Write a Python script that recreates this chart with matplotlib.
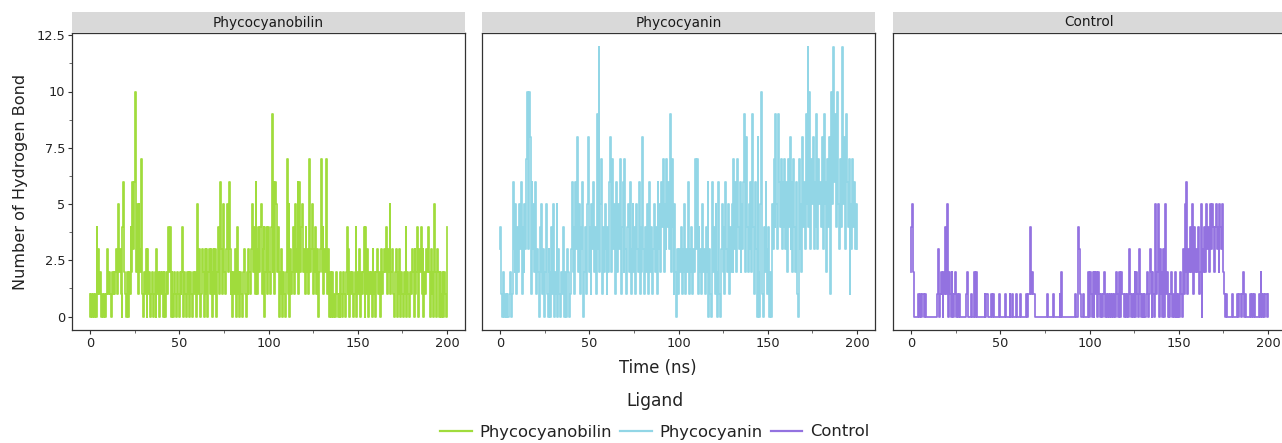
import numpy as np
import matplotlib
matplotlib.use("Agg")
import matplotlib.pyplot as plt
from matplotlib.ticker import MultipleLocator

# ---------------- data (hydrogen bond counts, one value per 0.5 ns) ----------------
ligands = ["Phycocyanobilin", "Phycocyanin", "Control"]
colors = ["#a0dc3c", "#92d6e6", "#9372e0"]

pcb_hbonds = [
    1,0,1,0,1,0,1,0,4,1,  3,1,2,0,1,0,1,1,0,1,  3,1,2,1,0,2,1,2,1,2,  3,1,5,2,3,1,0,4,6,2,
    1,0,2,0,2,1,4,2,6,3,  6,10,2,5,1,5,3,2,7,1, 0,2,1,3,0,3,1,2,0,1,  2,0,1,2,0,3,1,2,0,2,
    1,2,0,2,1,0,2,1,4,2,  4,0,2,1,0,2,1,0,2,1,  0,2,1,2,4,0,2,1,0,2,  1,2,0,2,1,0,2,1,2,0,
    2,5,1,3,0,1,3,2,0,3,  1,3,0,2,3,1,3,0,2,3,  1,3,0,2,4,1,6,3,1,3,  5,2,1,3,5,2,6,3,1,2,
    0,2,1,3,0,4,1,2,0,2,  1,0,2,3,1,0,2,1,3,2,  1,3,5,2,4,1,6,3,1,4,  2,4,5,1,3,4,0,2,4,1,
    4,2,1,4,9,2,6,1,6,5,  2,4,0,2,1,3,0,2,1,0,  2,7,1,5,0,3,1,2,4,1,  5,2,3,6,1,6,2,4,5,2,
    3,1,4,2,3,1,7,2,3,5,  1,3,2,4,1,3,0,2,3,7,  2,4,1,3,2,7,1,3,0,2,  1,0,2,0,1,0,2,1,0,1,
    0,2,1,0,2,1,0,2,4,1,  3,0,2,1,2,0,1,2,4,0,  2,1,3,0,2,1,2,4,0,4,  1,3,0,2,1,2,0,3,1,2,
    0,2,3,1,2,0,2,3,1,2,  3,2,4,1,3,2,5,1,2,3,  1,0,2,3,0,2,1,3,0,2,  1,0,2,1,4,0,2,1,0,2,
    1,3,2,0,3,1,2,4,0,3,  2,4,1,3,0,2,1,3,2,4,  2,0,3,1,2,0,5,2,0,3,  2,0,2,1,0,2,0,2,1,0,
    4,
]

pc_hbonds = [
    3,4,1,0,2,0,1,0,1,0,  0,1,2,0,1,6,3,2,5,1,  4,2,5,3,6,1,4,2,5,3,  7,10,3,10,8,1,6,3,5,2,
    6,1,3,2,0,4,2,5,1,3,  0,2,5,1,0,3,2,0,4,1,  5,0,2,1,5,0,3,1,0,2,  1,4,0,2,1,0,3,2,0,1,
    3,6,2,4,1,6,3,8,2,5,  1,4,3,6,0,2,4,1,5,8,  2,4,1,5,3,6,2,4,1,9,  3,12,2,5,7,1,4,2,5,3,
    1,4,2,6,8,2,7,3,5,1,  4,6,2,5,3,7,1,4,6,2,  7,3,1,4,5,2,6,1,3,5,  2,4,1,5,3,2,6,1,4,2,
    8,3,1,4,2,5,1,3,6,2,  4,1,3,5,2,4,1,6,3,5,  2,6,4,7,2,5,3,7,4,6,  3,9,2,7,4,1,5,2,0,3,
    1,3,2,4,1,3,2,5,1,3,  2,6,1,3,2,4,1,3,2,7,  3,7,1,4,2,3,1,5,2,3,  1,4,2,6,0,3,1,0,6,2,
    4,1,5,2,0,6,1,0,3,5,  2,4,1,6,3,2,5,1,4,2,  5,2,7,3,6,2,7,4,3,6,  2,5,3,6,9,2,8,4,2,5,
    3,6,2,9,4,1,6,3,0,8,  2,0,5,10,1,0,4,2,6,3, 1,4,0,2,0,5,3,7,4,9,  5,3,9,6,4,7,3,6,4,7,
    3,6,2,7,4,8,3,6,2,7,  4,2,6,1,0,7,3,5,2,8,  4,6,3,9,5,12,4,10,3,7, 5,8,3,6,4,9,3,7,5,6,
    4,8,3,9,5,6,2,7,4,8,  1,10,5,11,12,6,9,4,10,5, 3,7,4,9,12,5,8,3,9,6, 4,7,1,5,3,7,4,6,3,5,
    3,
]

control_hbonds = [
    2,4,5,2,0,0,0,0,0,1,  0,1,0,1,1,0,1,0,0,0,  0,0,0,0,0,0,0,0,0,0,  1,3,0,1,2,1,0,2,1,4,
    1,5,0,2,1,0,2,1,0,1,  2,0,1,0,1,0,0,0,0,0,  0,0,1,2,0,0,0,0,1,0,  0,2,0,2,0,0,0,0,0,0,
    0,0,0,1,0,1,1,0,0,0,  1,0,1,1,0,0,0,0,0,1,  0,0,0,0,0,0,1,0,0,0,  0,1,0,0,1,0,0,0,1,0,
    0,0,0,1,0,0,0,0,0,1,  1,0,1,1,4,1,2,1,1,0,  0,0,0,0,0,0,0,0,0,0,  0,0,0,1,0,0,0,0,0,0,
    1,0,0,0,0,0,0,1,0,2,  0,0,0,0,0,0,0,0,0,0,  0,0,0,0,1,0,0,0,4,3,  1,0,0,1,0,0,0,0,0,2,
    0,2,1,0,2,0,2,1,2,0,  2,1,0,1,1,0,1,2,0,1,  0,1,0,1,1,0,1,0,1,0,  2,1,0,1,2,0,2,1,1,0,
    1,0,1,1,0,3,1,0,1,0,  1,2,0,2,1,0,3,1,0,1,  0,1,0,0,1,2,0,1,3,2,  0,2,1,0,5,1,2,5,0,3,
    1,2,0,3,0,5,1,2,0,1,  0,1,2,0,1,0,2,0,1,0,  1,0,2,1,0,3,1,5,2,6,  1,3,2,4,2,5,1,3,4,2,
    3,2,4,1,2,5,0,3,2,4,  2,5,3,4,2,5,4,3,5,4,  2,4,5,3,4,2,5,4,3,5,  2,1,0,1,0,0,0,0,0,0,
    1,0,0,0,0,0,1,0,1,1,  0,1,2,1,0,1,0,0,0,0,  1,0,1,1,0,1,0,0,0,0,  1,0,2,1,0,1,0,1,1,0,
    1,
]

series = [pcb_hbonds, pc_hbonds, control_hbonds]
t_start, t_end = 0, 200

x_ticks = [0, 50, 100, 150, 200]
y_ticks = [0, 2.5, 5, 7.5, 10, 12.5]

# ---------------- layout ----------------
W, H = 1282, 443
fig = plt.figure(figsize=(W / 100, H / 100), dpi=100)
plt.rcParams['font.family'] = ['DejaVu Sans']

panel_lefts = [72, 482, 893]
panel_w = 393
ax_top, ax_bot = 33, 330
strip_top = 12

for i, (name, vals, col) in enumerate(zip(ligands, series, colors)):
    l = panel_lefts[i]
    ax = fig.add_axes([l / W, 1 - ax_bot / H, panel_w / W, (ax_bot - ax_top) / H])
    t = np.linspace(t_start, t_end, len(vals))
    ax.plot(t, vals, color=col, lw=1.25, drawstyle='steps-mid')
    ax.set_xlim(-10, 210)
    ax.set_ylim(-0.6, 12.6)
    ax.set_xticks(x_ticks)
    ax.xaxis.set_minor_locator(MultipleLocator(25))
    ax.tick_params(axis='x', which='major', labelsize=9.3, length=3, width=0.8,
                   colors='#333333', labelcolor='#222222', pad=2)
    ax.tick_params(axis='x', which='minor', length=2, width=0.6, colors='#555555')
    if i == 0:
        ax.set_yticks(y_ticks)
        ax.set_yticklabels(['0', '2.5', '5', '7.5', '10', '12.5'])
        ax.yaxis.set_minor_locator(MultipleLocator(1.25))
        ax.tick_params(axis='y', which='major', labelsize=9.3, length=3, width=0.8,
                       colors='#333333', labelcolor='#222222', pad=2)
        ax.tick_params(axis='y', which='minor', length=2, width=0.6, colors='#555555')
        ax.set_ylabel('Number of Hydrogen Bond', fontsize=11.6, color='#222222', labelpad=6)
    else:
        ax.set_yticks([])
    for sp in ax.spines.values():
        sp.set_color('#333333')
        sp.set_linewidth(0.9)
    # facet strip
    sax = fig.add_axes([l / W, 1 - ax_top / H, panel_w / W, (ax_top - strip_top) / H])
    sax.set_facecolor('#d9d9d9')
    sax.set_xticks([]); sax.set_yticks([])
    for sp in sax.spines.values():
        sp.set_visible(False)
    sax.text(0.5, 0.5, name, ha='center', va='center', fontsize=9.8, color='#1a1a1a',
             transform=sax.transAxes)

fig.text(658 / W, 1 - 368 / H, 'Time (ns)', ha='center', va='center', fontsize=11.9, color='#222222')
fig.text(655 / W, 1 - 401 / H, 'Ligand', ha='center', va='center', fontsize=12.3, color='#222222')

handles = [plt.Line2D([], [], color=c, lw=1.6) for c in colors]
leg = fig.legend(handles, ligands, loc='center', bbox_to_anchor=(655 / W, 1 - 432 / H),
                 ncol=3, frameon=False, fontsize=11.8, handlelength=1.9, handletextpad=0.5,
                 columnspacing=0.5, borderpad=0.1)
for txt in leg.get_texts():
    txt.set_color('#222222')

fig.savefig('out.png', dpi=100)
